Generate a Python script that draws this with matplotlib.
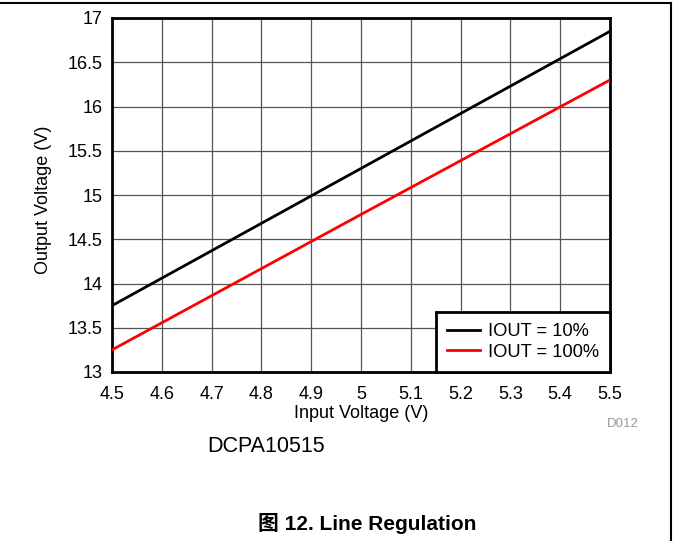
import matplotlib
matplotlib.use("Agg")
import matplotlib.pyplot as plt
from matplotlib.lines import Line2D

plt.rcParams['font.family'] = ['Liberation Sans', 'Noto Sans CJK SC', 'DejaVu Sans']

x_vin = [4.5, 5.0, 5.5]
y_10 = [13.75, 15.3, 16.85]
y_100 = [13.25, 14.78, 16.3]
xticks = [4.5, 4.6, 4.7, 4.8, 4.9, 5.0, 5.1, 5.2, 5.3, 5.4, 5.5]
xticklabels = ['4.5', '4.6', '4.7', '4.8', '4.9', '5', '5.1', '5.2', '5.3', '5.4', '5.5']
yticks = [13, 13.5, 14, 14.5, 15, 15.5, 16, 16.5, 17]
yticklabels = ['13', '13.5', '14', '14.5', '15', '15.5', '16', '16.5', '17']

W, H = 673, 541
fig = plt.figure(figsize=(W/100, H/100), dpi=100)
ax = fig.add_axes([112/W, 1-372/H, (610-112)/W, (372-18)/H])

ax.plot(x_vin, y_10, color='black', lw=2, label='IOUT = 10%', zorder=3)
ax.plot(x_vin, y_100, color='#ff0000', lw=2, label='IOUT = 100%', zorder=3)

ax.set_xlim(4.5, 5.5)
ax.set_ylim(13, 17)
ax.set_xticks(xticks)
ax.set_xticklabels(xticklabels)
ax.set_yticks(yticks)
ax.set_yticklabels(yticklabels)
ax.tick_params(length=0, labelsize=13)
ax.tick_params(axis='x', pad=10)
ax.tick_params(axis='y', pad=7)
ax.grid(True, color='#555555', lw=0.9)
for s in ax.spines.values():
    s.set_linewidth(2)
    s.set_color('black')
ax.set_xlabel('Input Voltage (V)', fontsize=13, va='center')
ax.set_ylabel('Output Voltage (V)', fontsize=13, va='center')
ax.xaxis.set_label_coords(0.5, (372-414)/354)
ax.yaxis.set_label_coords((44-112)/498, 0.486)

leg = ax.legend(loc='lower right', fontsize=13.2, frameon=True, fancybox=False,
                borderaxespad=0, handlelength=1.8, borderpad=0.62, labelspacing=0.2,
                handletextpad=0.4)
leg.get_frame().set_edgecolor('black')
leg.get_frame().set_linewidth(2)
leg.get_frame().set_alpha(1)

fig.text(607/W, 1-424/H, 'D012', fontsize=9.5, color='#999999', ha='left', va='center')
fig.text(207/W, 1-446/H, 'DCPA10515', fontsize=15.5, ha='left', va='center')
fig.text(367/W, 1-524/H, '图 12. Line Regulation', fontsize=15, fontweight='bold',
         ha='center', va='center')

fig.add_artist(Line2D([0, 671/W], [1-3/H, 1-3/H], color='black', lw=1.5, transform=fig.transFigure))
fig.add_artist(Line2D([671/W, 671/W], [1-3/H, 0], color='black', lw=1.5, transform=fig.transFigure))

fig.savefig('out.png', dpi=100)
